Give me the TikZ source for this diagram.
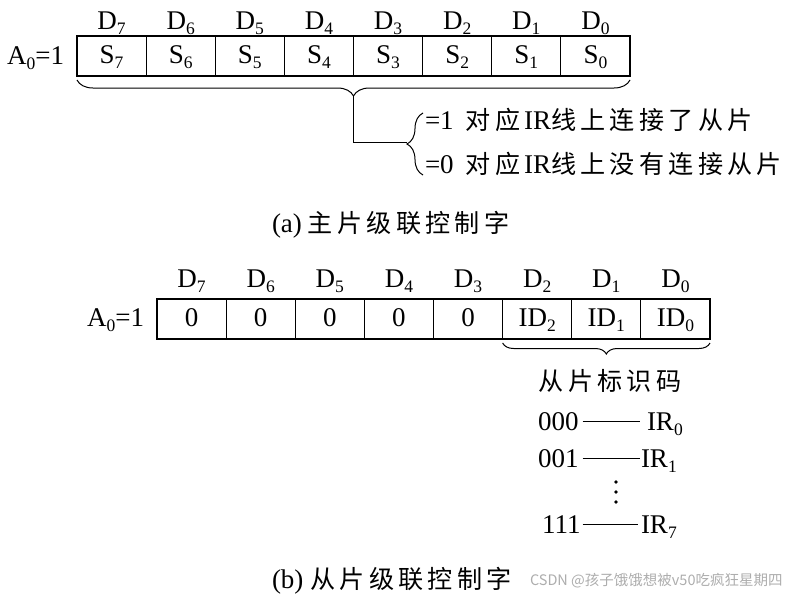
\documentclass[tikz,border=0pt]{standalone}
\usepackage{fontspec}
\setmainfont{Liberation Serif}
\newfontfamily\cjk[Scale=0.93,LetterSpace=17]{Noto Sans CJK SC}
\newfontfamily\wmfont{Noto Sans CJK SC}
\usetikzlibrary{decorations.pathreplacing}
\newcommand\lowsub[1]{\raisebox{-5pt}{\fontsize{17.5}{17.5}\selectfont #1}}
\begin{document}
\begin{tikzpicture}[x=1pt,y=-1pt,
  every node/.style={font=\fontsize{27}{30}\selectfont, inner sep=0pt, outer sep=0pt},
  cell/.style={draw, line width=1.1pt, minimum width=69.125pt, minimum height=40pt,
    text height=18pt, text depth=4pt, anchor=north west},
  lbl/.style={anchor=base},
  txt/.style={anchor=base west},
  bracea/.style={decorate, line width=1pt, decoration={brace, mirror, amplitude=#1}},
  braceb/.style={decorate, line width=1pt, decoration={brace, amplitude=#1}},
  conn/.style={line width=1pt},
  wm/.style={anchor=west, font=\wmfont\fontsize{14.5}{16}\selectfont, text=black!32}]
\useasboundingbox (0,0) rectangle (795,603);

% ---------- (a) master ----------
\foreach \lab [count=\i from 0] in {7,6,5,4,3,2,1,0} {
  \node[cell] (t\i) at ({77+69.125*\i},36) {S\lowsub{\lab}};
  \node[lbl] (td\i) at ({77+69.125*(\i+0.5)},29) {D\lowsub{\lab}};
}
\node[anchor=base east] (ta) at (64,64) {A\lowsub{0}=1};

\draw[bracea=16pt] ([yshift=-4pt]t0.south west) -- ([yshift=-4pt]t7.south east);
\coordinate (tb) at (353.5,96);
\coordinate (lb) at (407,142);
\draw[conn] (tb) |- (lb);
\draw[braceb=16pt] (423,175) -- (423,113);

\node[txt] (l1) at (425,129) {=1\hspace{12pt}{\cjk 对应}\hspace{4pt}IR{\cjk 线上连接了从片}};
\node[txt] (l2) at (425,173) {=0\hspace{12pt}{\cjk 对应}\hspace{4pt}IR{\cjk 线上没有连接从片}};
\node[txt] (capa) at (272,232) {(a)\hspace{6pt}{\cjk 主片级联控制字}};

% ---------- (b) slave ----------
\foreach \lab/\txtc [count=\i from 0] in {7/0,6/0,5/0,4/0,3/0,2/ID\lowsub{2},1/ID\lowsub{1},0/ID\lowsub{0}} {
  \node[cell] (b\i) at ({157+69.125*\i},299) {\txtc};
  \node[lbl] (bd\i) at ({157+69.125*(\i+0.5)},287) {D\lowsub{\lab}};
}
\node[anchor=base east] (ba) at (144,326) {A\lowsub{0}=1};

\draw[bracea=11pt] ([yshift=-4pt]b5.south west) -- ([yshift=-4pt]b7.south east);
\node (code) at (610,381) {\cjk 从片标识码};

\node[txt] (c0) at (538,430) {000};
\node[txt] (r0) at (647,430) {IR\lowsub{0}};
\node[txt] (c1) at (538,467) {001};
\node[txt] (r1) at (641,467) {IR\lowsub{1}};
\node[txt] (c7) at (542,533) {111};
\node[txt] (r7) at (641,533) {IR\lowsub{7}};
\draw[conn, shorten <=4pt, shorten >=7pt] (c0.east) -- (c0.east -| r0.west);
\draw[conn, shorten <=4pt, shorten >=1pt] (c1.east) -- (c1.east -| r1.west);
\draw[conn, shorten <=2pt, shorten >=3pt] (c7.east) -- (c7.east -| r7.west);
\fill (616,482) circle (1.8pt);
\fill (616,492) circle (1.8pt);
\fill (616,502) circle (1.8pt);

\node[txt] (capb) at (272,588) {(b)\hspace{7pt}{\cjk 从片级联控制字}};
\node[wm] (wmk) at (530,581) {CSDN @孩子饿饿想被v50吃疯狂星期四};
\end{tikzpicture}
\end{document}
